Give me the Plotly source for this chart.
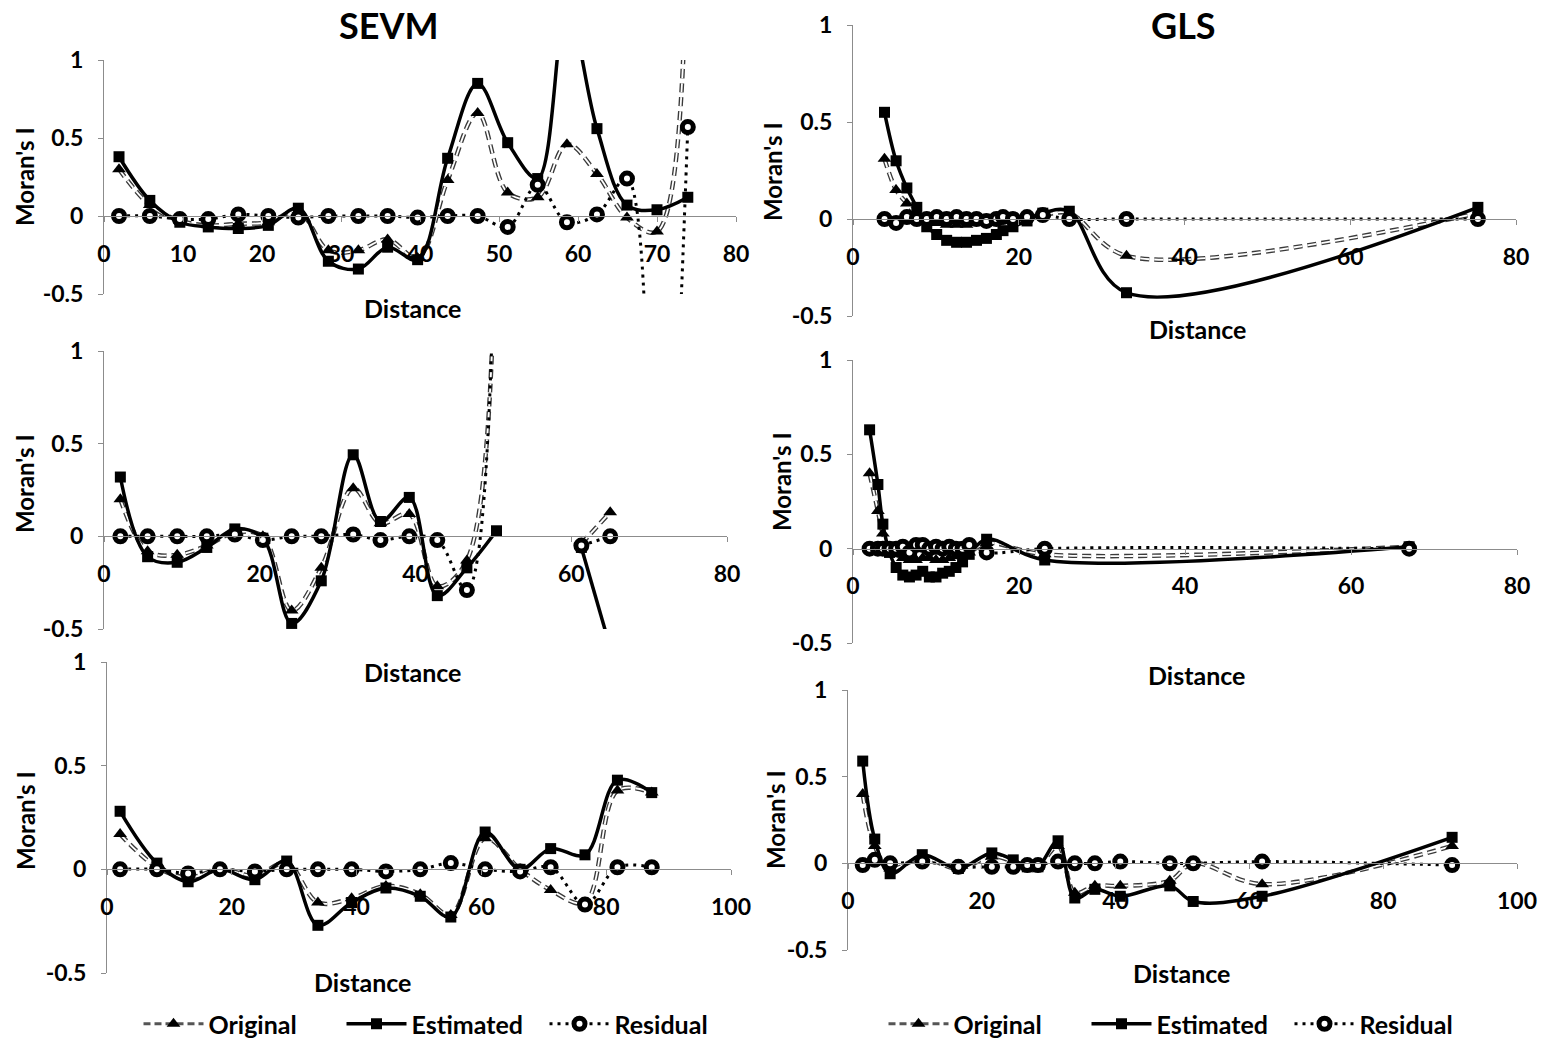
import plotly.graph_objects as go

W, H = 1544, 1040

# ---------------- DATA ----------------
# SEVM, top panel
sevm1_dist = [1.9, 5.8, 9.6, 13.2, 17.0, 20.8, 24.6, 28.4, 32.2, 35.9, 39.7, 43.5, 47.3, 51.1, 54.9, 58.6, 62.4, 66.2, 70.0, 73.9]
sevm1_orig = [0.30, 0.07, -0.03, -0.06, -0.05, -0.04, 0.03, -0.22, -0.22, -0.15, -0.27, 0.23, 0.66, 0.15, 0.12, 0.46, 0.27, -0.01, -0.10, 3.0]
sevm1_est = [0.38, 0.10, -0.04, -0.07, -0.08, -0.06, 0.05, -0.29, -0.34, -0.20, -0.28, 0.37, 0.85, 0.47, 0.24, 1.35, 0.56, 0.07, 0.04, 0.12]
sevm1_res = [0.0, 0.0, -0.02, -0.02, 0.01, 0.0, -0.01, 0.0, 0.0, 0.0, -0.01, 0.0, 0.0, -0.07, 0.20, -0.04, 0.01, 0.24, -3.0, 0.57]

# GLS, top panel
gls1_dist = [3.8, 5.2, 6.5, 7.7, 8.9, 10.1, 11.3, 12.5, 13.7, 14.9, 16.1, 17.3, 18.1, 19.3, 21.0, 22.9, 26.1, 33.0, 75.4]
gls1_orig = [0.31, 0.15, 0.08, 0.02, -0.01, -0.02, -0.03, -0.03, -0.03, -0.02, -0.02, -0.01, -0.01, 0.0, 0.01, 0.02, 0.03, -0.19, 0.03]
gls1_est = [0.55, 0.30, 0.16, 0.06, -0.04, -0.08, -0.11, -0.12, -0.12, -0.11, -0.10, -0.08, -0.06, -0.04, -0.01, 0.03, 0.04, -0.38, 0.06]
gls1_res = [0.0, -0.02, 0.01, 0.0, 0.0, 0.01, 0.0, 0.01, 0.0, 0.0, -0.01, 0.0, 0.01, 0.0, 0.01, 0.02, 0.0, 0.0, 0.0]

# SEVM, middle panel
sevm2_dist = [2.1, 5.6, 9.4, 13.2, 16.8, 20.4, 24.1, 27.9, 32.0, 35.5, 39.2, 42.8, 46.6, 50.4, 54.1, 57.7, 61.3, 65.0]
sevm2_orig = [0.20, -0.08, -0.10, -0.05, 0.02, 0.0, -0.40, -0.17, 0.26, 0.07, 0.12, -0.27, -0.13, 2.2, None, None, -0.04, 0.13]
sevm2_est = [0.32, -0.11, -0.14, -0.06, 0.04, -0.01, -0.47, -0.24, 0.44, 0.08, 0.21, -0.32, -0.17, 0.03, None, None, -0.06, -0.6]
sevm2_res = [0.0, 0.0, 0.0, 0.0, 0.01, -0.02, 0.0, 0.0, 0.01, -0.02, 0.0, -0.02, -0.29, 2.2, None, None, -0.05, 0.0]

# GLS, middle panel
gls2_dist = [2.0, 3.0, 3.6, 4.4, 5.2, 6.0, 6.8, 7.6, 8.4, 9.2, 10.0, 10.8, 11.6, 12.4, 13.2, 14.0, 16.1, 23.1, 67.0]
gls2_orig = [0.40, 0.20, 0.08, 0.0, -0.03, -0.05, -0.06, -0.06, -0.05, -0.05, -0.06, -0.06, -0.05, -0.04, -0.03, -0.02, 0.03, -0.03, 0.01]
gls2_est = [0.63, 0.34, 0.13, -0.02, -0.10, -0.14, -0.15, -0.14, -0.12, -0.15, -0.15, -0.13, -0.12, -0.10, -0.07, -0.03, 0.05, -0.06, 0.01]
gls2_res = [0.0, 0.0, 0.0, 0.0, 0.0, 0.01, -0.02, 0.02, 0.02, 0.0, 0.01, 0.0, 0.01, 0.0, 0.0, 0.02, -0.02, 0.0, 0.0]

# SEVM, bottom panel
sevm3_dist = [2.1, 8.0, 13.0, 18.1, 23.7, 28.8, 33.8, 39.2, 44.7, 50.2, 55.1, 60.6, 66.2, 71.1, 76.6, 81.8, 87.3]
sevm3_orig = [0.17, 0.01, -0.04, 0.0, -0.03, 0.03, -0.16, -0.14, -0.08, -0.12, -0.22, 0.15, 0.0, -0.10, -0.16, 0.38, 0.37]
sevm3_est = [0.28, 0.03, -0.06, 0.0, -0.05, 0.04, -0.27, -0.16, -0.09, -0.13, -0.23, 0.18, 0.0, 0.10, 0.07, 0.43, 0.37]
sevm3_res = [0.0, 0.0, -0.02, 0.0, -0.01, 0.0, 0.0, 0.0, -0.01, 0.0, 0.03, 0.0, -0.01, 0.01, -0.17, 0.01, 0.01]

# GLS, bottom panel
gls3_dist = [2.2, 4.0, 6.3, 11.1, 16.5, 21.5, 24.7, 26.8, 28.4, 31.4, 33.9, 36.9, 40.7, 48.1, 51.6, 61.9, 90.3]
gls3_orig = [0.40, 0.10, -0.03, 0.03, -0.03, 0.04, 0.01, -0.02, -0.02, 0.10, -0.17, -0.13, -0.13, -0.10, 0.0, -0.12, 0.10]
gls3_est = [0.59, 0.14, -0.06, 0.05, -0.03, 0.06, 0.02, -0.02, -0.02, 0.13, -0.20, -0.15, -0.19, -0.13, -0.22, -0.19, 0.15]
gls3_res = [-0.01, 0.02, 0.0, 0.01, -0.02, -0.02, -0.02, -0.01, -0.01, 0.01, 0.0, 0.0, 0.01, 0.0, 0.0, 0.01, -0.01]

y_ticks = [-0.5, 0, 0.5, 1]
y_ticktext = ["-0.5", "0", "0.5", "1"]
series_names = ["Original", "Estimated", "Residual"]
column_titles = ["SEVM", "GLS"]
x_title = "Distance"
y_title = "Moran's I"

# ---------------- LAYOUT (pixel geometry) ----------------
panels = [
    dict(d=sevm1_dist, o=sevm1_orig, e=sevm1_est, r=sevm1_res, xp=(104, 736), yp=(60, 294), xmax=80, xt=[0, 10, 20, 30, 40, 50, 60, 70, 80]),
    dict(d=gls1_dist, o=gls1_orig, e=gls1_est, r=gls1_res, xp=(853, 1516), yp=(25, 316), xmax=80, xt=[0, 20, 40, 60, 80]),
    dict(d=sevm2_dist, o=sevm2_orig, e=sevm2_est, r=sevm2_res, xp=(104, 727), yp=(351, 629), xmax=80, xt=[0, 20, 40, 60, 80]),
    dict(d=gls2_dist, o=gls2_orig, e=gls2_est, r=gls2_res, xp=(853, 1517), yp=(360, 643), xmax=80, xt=[0, 20, 40, 60, 80]),
    dict(d=sevm3_dist, o=sevm3_orig, e=sevm3_est, r=sevm3_res, xp=(107, 731), yp=(662, 973), xmax=100, xt=[0, 20, 40, 60, 80, 100]),
    dict(d=gls3_dist, o=gls3_orig, e=gls3_est, r=gls3_res, xp=(848, 1517), yp=(690, 950), xmax=100, xt=[0, 20, 40, 60, 80, 100]),
]
xlabel_pos = [(412, 308), (1197, 329), (412, 672), (1196, 675), (362, 982), (1181, 973)]
ylabel_pos = [(24, 177), (773, 172), (24, 484), (781, 482), (25, 820), (775, 820)]
title_pos = [(388, 25), (1183, 25)]

FONT = "Lato"
AXIS_COL = "#8c8c8c"
DASH_O = "9px,5px"

fig = go.Figure()
layout = dict(
    width=W, height=H, margin=dict(l=0, r=0, t=0, b=0, pad=0, autoexpand=False),
    paper_bgcolor="white", plot_bgcolor="white",
    font=dict(family=FONT, color="black"),
)

annotations = []
for i, p in enumerate(panels, start=1):
    xa = "x" if i == 1 else f"x{i}"
    ya = "y" if i == 1 else f"y{i}"
    top, bot = p["yp"]
    zero_px = top + (bot - top) * (1.0 / 1.5)
    layout[f"xaxis{'' if i == 1 else i}"] = dict(
        domain=[p["xp"][0] / W, p["xp"][1] / W], range=[0, p["xmax"]],
        anchor="free", position=1 - zero_px / H, automargin=False,
        showline=True, linecolor=AXIS_COL, linewidth=1,
        ticks="outside", ticklen=5, tickcolor=AXIS_COL,
        tickvals=p["xt"], ticktext=[str(v) for v in p["xt"]],
        showgrid=False, zeroline=False, ticklabelstandoff=12,
        tickfont=dict(family=FONT, size=23, color="black", weight="bold"),
    )
    layout[f"yaxis{'' if i == 1 else i}"] = dict(
        domain=[1 - bot / H, 1 - top / H], range=[-0.5, 1], anchor=xa, automargin=False,
        showline=True, linecolor=AXIS_COL, linewidth=1,
        ticks="outside", ticklen=5, tickcolor=AXIS_COL,
        tickvals=y_ticks, ticktext=y_ticktext,
        showgrid=False, zeroline=False, ticklabelstandoff=10,
        tickfont=dict(family=FONT, size=23, color="black", weight="bold"),
    )
    # Original: outlined dashes
    fig.add_trace(go.Scatter(x=p["d"], y=p["o"], xaxis=xa, yaxis=ya, mode="lines",
                             line=dict(color="#3a3a3a", width=4.5, dash=DASH_O, shape="spline", smoothing=1),
                             showlegend=False, hoverinfo="skip"))
    fig.add_trace(go.Scatter(x=p["d"], y=p["o"], xaxis=xa, yaxis=ya, mode="lines+markers",
                             line=dict(color="white", width=1.8, dash=DASH_O, shape="spline", smoothing=1),
                             marker=dict(symbol="triangle-up", size=12, color="black"),
                             showlegend=False, name=series_names[0]))
    # Estimated
    fig.add_trace(go.Scatter(x=p["d"], y=p["e"], xaxis=xa, yaxis=ya, mode="lines+markers",
                             line=dict(color="black", width=3.5, shape="spline", smoothing=1),
                             marker=dict(symbol="square", size=11, color="black"),
                             showlegend=False, name=series_names[1]))
    # Residual
    fig.add_trace(go.Scatter(x=p["d"], y=p["r"], xaxis=xa, yaxis=ya, mode="lines+markers",
                             line=dict(color="black", width=3, dash="3px,5px", shape="spline", smoothing=1),
                             marker=dict(symbol="circle", size=11, color="white", line=dict(color="black", width=5)),
                             showlegend=False, name=series_names[2]))

    lx, ly = xlabel_pos[i - 1]
    annotations.append(dict(x=lx / W, y=1 - ly / H, xref="paper", yref="paper", text=x_title,
                            showarrow=False, xanchor="center", yanchor="middle",
                            font=dict(family=FONT, size=25, color="black", weight="bold")))
    mx, my = ylabel_pos[i - 1]
    annotations.append(dict(x=mx / W, y=1 - my / H, xref="paper", yref="paper", text=y_title,
                            showarrow=False, xanchor="center", yanchor="middle", textangle=-90,
                            font=dict(family=FONT, size=24, color="black", weight="bold")))

for t, (tx, ty) in zip(column_titles, title_pos):
    annotations.append(dict(x=tx / W, y=1 - ty / H, xref="paper", yref="paper", text=t,
                            showarrow=False, xanchor="center", yanchor="middle",
                            font=dict(family=FONT, size=36, color="black", weight="bold")))

# legend entries (empty traces)
for leg, xa, ya in [("legend", "x", "y"), ("legend2", "x2", "y2")]:
    fig.add_trace(go.Scatter(x=[None], y=[None], xaxis=xa, yaxis=ya, mode="lines+markers", name=series_names[0],
                             line=dict(color="#555555", width=3, dash="7px,4px"),
                             marker=dict(symbol="triangle-up", size=12, color="black"), legend=leg))
    fig.add_trace(go.Scatter(x=[None], y=[None], xaxis=xa, yaxis=ya, mode="lines+markers", name=series_names[1],
                             line=dict(color="black", width=3.5),
                             marker=dict(symbol="square", size=11, color="black"), legend=leg))
    fig.add_trace(go.Scatter(x=[None], y=[None], xaxis=xa, yaxis=ya, mode="lines+markers", name=series_names[2],
                             line=dict(color="black", width=3, dash="3px,5px"),
                             marker=dict(symbol="circle", size=11, color="white", line=dict(color="black", width=5)),
                             legend=leg))

leg_common = dict(orientation="h", xanchor="center", yanchor="middle", y=1 - 1024 / H,
                  font=dict(family=FONT, size=25, color="black", weight="bold"),
                  itemwidth=60, entrywidth=128, bgcolor="rgba(0,0,0,0)", traceorder="normal")
layout["legend"] = dict(x=443 / W, **leg_common)
layout["legend2"] = dict(x=1188 / W, **leg_common)
layout["annotations"] = annotations
layout["showlegend"] = True

fig.update_layout(**layout)
fig.write_html("out.html", config={"displayModeBar": False},
               post_script="document.body.style.margin='0';document.body.style.padding='0';")
